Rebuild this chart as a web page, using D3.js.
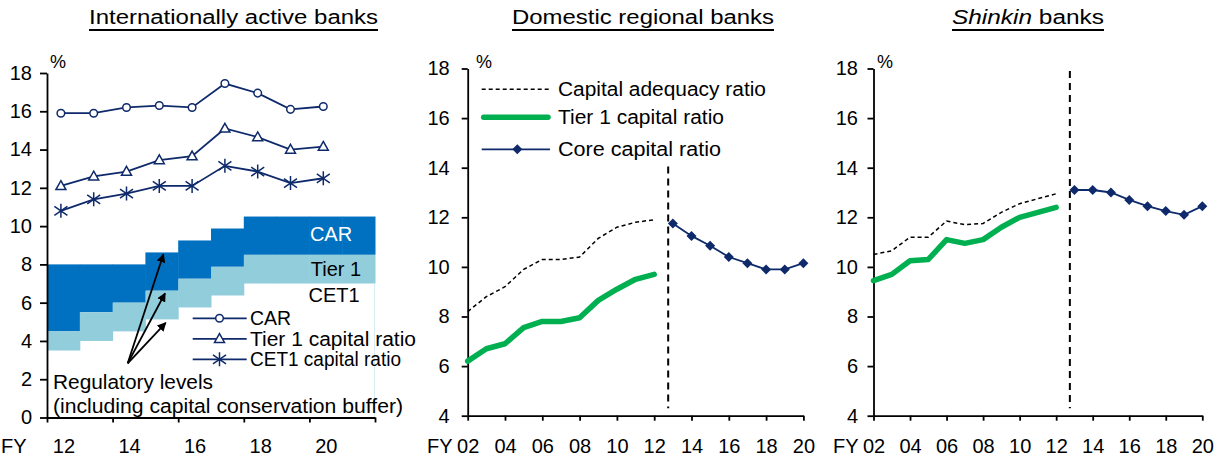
<!DOCTYPE html>
<html><head><meta charset="utf-8">
<script src="https://cdn.jsdelivr.net/npm/d3@7"></script>
<style>
html,body{margin:0;padding:0;background:#fff;}
svg{display:block;}
text{font-family:"Liberation Sans",Arial,sans-serif;fill:#000;}
</style></head>
<body><svg id="c" width="1222" height="459"></svg>
<script>
// ---------- DATA ----------
const titles = ["Internationally active banks", "Domestic regional banks", "Shinkin banks"];
// Panel 1: internationally active banks (FY2012-FY2020)
const intlYears = [12, 13, 14, 15, 16, 17, 18, 19, 20];
const intlCAR   = [15.9, 15.9, 16.2, 16.3, 16.2, 17.45, 16.95, 16.1, 16.25];
const intlTier1 = [12.1, 12.6, 12.85, 13.45, 13.65, 15.1, 14.65, 14.0, 14.15];
const intlCET1  = [10.8, 11.4, 11.7, 12.1, 12.1, 13.15, 12.85, 12.25, 12.5];
// Regulatory levels incl. capital conservation buffer
const regYears = [12, 13, 14, 15, 16, 17, 18, 19, 20, 21];
const regCAR   = [8, 8, 8, 8.625, 9.25, 9.875, 10.5, 10.5, 10.5, 10.5];
const regTier1 = [4.5, 5.5, 6, 6.625, 7.25, 7.875, 8.5, 8.5, 8.5, 8.5];
const regCET1  = [3.5, 4, 4.5, 5.125, 5.75, 6.375, 7, 7, 7, 7];
const intlXTicks = [12, 14, 16, 18, 20];
const intlYTicks = [0, 2, 4, 6, 8, 10, 12, 14, 16, 18];
// Panels 2-3: FY2002-FY2012 (old standard), FY2013-FY2020 (core capital)
const oldYears  = [2, 3, 4, 5, 6, 7, 8, 9, 10, 11, 12];
const coreYears = [13, 14, 15, 16, 17, 18, 19, 20];
const regionalCAR   = [8.2, 8.8, 9.2, 9.9, 10.3, 10.3, 10.4, 11.15, 11.6, 11.8, 11.9];
const regionalTier1 = [6.2, 6.7, 6.9, 7.55, 7.8, 7.8, 7.95, 8.65, 9.1, 9.5, 9.7];
const regionalCore  = [11.75, 11.25, 10.85, 10.4, 10.15, 9.9, 9.9, 10.15];
const shinkinCAR    = [10.5, 10.65, 11.2, 11.2, 11.85, 11.7, 11.75, 12.2, 12.55, 12.75, 12.95];
const shinkinTier1  = [9.45, 9.7, 10.25, 10.3, 11.1, 10.95, 11.1, 11.6, 12.0, 12.2, 12.4];
const shinkinCore   = [13.1, 13.1, 13.0, 12.7, 12.45, 12.25, 12.1, 12.45];
const domXTicks = [2, 4, 6, 8, 10, 12, 14, 16, 18, 20];
const domYTicks = [4, 6, 8, 10, 12, 14, 16, 18];
const breakYear = 12.75;
const fmt2 = d => String(d).padStart(2, "0");

// ---------- STYLE ----------
const NAVY = "#0E2A6B", DARK = "#0070C0", LIGHT = "#92CDDC", GREEN = "#00B050";
const FS = 20;
const svg = d3.select("#c");

// ---------- TITLES ----------
const titleSpec = [
  {x: 89, w: 289, parts: [{t: titles[0]}]},
  {x: 512, w: 262, parts: [{t: titles[1]}]},
  {x: 952, w: 152, parts: [{t: "Shinkin", it: true}, {t: " banks"}]}
];
titleSpec.forEach(s => {
  const t = svg.append("text").attr("x", s.x).attr("y", 23.5).attr("font-size", 19.5)
    .attr("textLength", s.w).attr("lengthAdjust", "spacingAndGlyphs");
  s.parts.forEach(p => t.append("tspan").text(p.t).attr("font-style", p.it ? "italic" : "normal"));
  svg.append("line").attr("x1", s.x).attr("x2", s.x + s.w).attr("y1", 30).attr("y2", 30)
    .attr("stroke", "#000").attr("stroke-width", 2);
});

function styleAxis(g) {
  g.select(".domain").attr("stroke", "#000").attr("stroke-width", 1.8);
  g.selectAll(".tick line").attr("stroke", "#000").attr("stroke-width", 1.8);
  g.selectAll(".tick text").attr("font-size", FS).attr("fill", "#000")
    .attr("font-family", "Liberation Sans, Arial, sans-serif");
}

// ---------- PANEL 1 ----------
(function () {
  const x0 = 47, x1 = 375, y0 = 417.5, y1 = 73;
  const xb = d3.scaleBand().domain(regYears).range([x0, x1]).paddingInner(0).paddingOuter(0);
  const xl = d3.scaleLinear().domain([11.5, 21.5]).range([x0, x1]);
  const y = d3.scaleLinear().domain([0, 18]).range([y0, y1]);

  // regulatory areas
  const g = svg.append("g");
  regYears.forEach((yr, i) => {
    g.append("rect").attr("x", xb(yr)).attr("width", xb.bandwidth() + 0.5)
      .attr("y", y(regCAR[i])).attr("height", y(regTier1[i]) - y(regCAR[i])).attr("fill", DARK);
    g.append("rect").attr("x", xb(yr)).attr("width", xb.bandwidth() + 0.5)
      .attr("y", y(regTier1[i])).attr("height", y(regCET1[i]) - y(regTier1[i])).attr("fill", LIGHT);
  });
  svg.append("line").attr("x1", x1 - 0.5).attr("x2", x1 - 0.5)
    .attr("y1", y(regCET1[regCET1.length - 1])).attr("y2", y0).attr("stroke", "#D6ECF2").attr("stroke-width", 1);

  // labels inside areas
  svg.append("text").attr("x", 331).attr("y", 240.5).attr("text-anchor", "middle").attr("font-size", FS).style("fill", "#fff").text("CAR");
  svg.append("text").attr("x", 336).attr("y", 275.5).attr("text-anchor", "middle").attr("font-size", FS).text("Tier 1");
  svg.append("text").attr("x", 334).attr("y", 301.5).attr("text-anchor", "middle").attr("font-size", FS).text("CET1");

  // axes
  const ya = svg.append("g").attr("transform", `translate(${x0},0)`)
    .call(d3.axisLeft(y).tickValues(intlYTicks).tickSize(7).tickPadding(8).tickSizeOuter(0));
  styleAxis(ya);
  const xa = svg.append("g").attr("transform", `translate(0,${y0})`)
    .call(d3.axisBottom(xl).tickValues([11.5, 13.5, 15.5, 17.5, 19.5, 21.5]).tickFormat("").tickSize(5).tickSizeOuter(0));
  styleAxis(xa);
  const xa2 = svg.append("g").attr("transform", `translate(0,${y0})`)
    .call(d3.axisBottom(xl).tickValues(intlXTicks).tickSize(0).tickPadding(21.3));
  xa2.select(".domain").remove();
  styleAxis(xa2);
  svg.append("text").attr("x", 1).attr("y", 453).attr("font-size", FS).text("FY");
  svg.append("text").attr("x", 50).attr("y", 68).attr("font-size", 18).text("%");

  // series
  const line = d3.line().x((d, i) => xl(intlYears[i]) - 2.5).y(d => y(d));
  [intlCAR, intlTier1, intlCET1].forEach(s => {
    svg.append("path").attr("d", line(s)).attr("fill", "none").attr("stroke", NAVY).attr("stroke-width", 1.8);
  });
  const tri = "M0,-5.2L5,3.6L-5,3.6Z";
  const star = "M0,-7V7M-6.5,-4.5L6.5,4.5M-6.5,4.5L6.5,-4.5";
  intlCAR.forEach((d, i) => svg.append("circle").attr("cx", xl(intlYears[i]) - 2.5).attr("cy", y(d)).attr("r", 3.8)
    .attr("fill", "#fff").attr("stroke", NAVY).attr("stroke-width", 1.5));
  intlTier1.forEach((d, i) => svg.append("path").attr("d", tri)
    .attr("transform", `translate(${xl(intlYears[i]) - 2.5},${y(d)})`)
    .attr("fill", "#fff").attr("stroke", NAVY).attr("stroke-width", 1.5));
  intlCET1.forEach((d, i) => svg.append("path").attr("d", star)
    .attr("transform", `translate(${xl(intlYears[i]) - 2.5},${y(d)})`)
    .attr("fill", "none").attr("stroke", NAVY).attr("stroke-width", 1.5));

  // legend
  const lg = [["CAR", "c"], ["Tier 1 capital ratio", "t"], ["CET1 capital ratio", "s"]];
  const lw = [41, 166, 151];
  lg.forEach((d, i) => {
    const cy = 318.3 + i * 20.5;
    svg.append("line").attr("x1", 192.7).attr("x2", 246.7).attr("y1", cy).attr("y2", cy).attr("stroke", NAVY).attr("stroke-width", 1.8);
    if (d[1] === "c") svg.append("circle").attr("cx", 219.5).attr("cy", cy).attr("r", 3.8).attr("fill", "#fff").attr("stroke", NAVY).attr("stroke-width", 1.5);
    if (d[1] === "t") svg.append("path").attr("d", tri).attr("transform", `translate(219.5,${cy})`).attr("fill", "#fff").attr("stroke", NAVY).attr("stroke-width", 1.5);
    if (d[1] === "s") svg.append("path").attr("d", star).attr("transform", `translate(219.5,${cy})`).attr("fill", "none").attr("stroke", NAVY).attr("stroke-width", 1.5);
    svg.append("text").attr("x", 250).attr("y", cy + 7).attr("font-size", FS)
      .attr("textLength", lw[i]).attr("lengthAdjust", "spacingAndGlyphs").text(d[0]);
  });

  // annotation arrows
  svg.append("defs").append("marker").attr("id", "ah").attr("viewBox", "0 0 10 10")
    .attr("refX", 9).attr("refY", 5).attr("markerWidth", 5).attr("markerHeight", 5)
    .attr("orient", "auto").attr("markerUnits", "strokeWidth")
    .append("path").attr("d", "M0,0L10,5L0,10Z").attr("fill", "#000");
  const base = [13.96, 2.83];
  [[15.05, 8.53], [15.1, 6.49], [15.12, 4.95]].forEach(h => {
    svg.append("line").attr("x1", xl(base[0])).attr("y1", y(base[1]))
      .attr("x2", xl(h[0])).attr("y2", y(h[1])).attr("stroke", "#000").attr("stroke-width", 1.8)
      .attr("marker-end", "url(#ah)");
  });
  svg.append("text").attr("x", 53).attr("y", 388.5).attr("font-size", FS)
    .attr("textLength", 160).attr("lengthAdjust", "spacingAndGlyphs").text("Regulatory levels");
  svg.append("text").attr("x", 53).attr("y", 413).attr("font-size", FS)
    .attr("textLength", 350).attr("lengthAdjust", "spacingAndGlyphs").text("(including capital conservation buffer)");
})();

// ---------- PANELS 2-3 ----------
function domPanel(x0, x1, labelOff, fyX, pctX, car, t1, core, vTop, legend) {
  const y0 = 415.7, y1 = 68.5;
  const x = d3.scaleLinear().domain([2, 20]).range([x0, x1]);
  const y = d3.scaleLinear().domain([4, 18]).range([y0, y1]);
  const ya = svg.append("g").attr("transform", `translate(${x0},0)`)
    .call(d3.axisLeft(y).tickValues(domYTicks).tickSize(6).tickPadding(labelOff - 6).tickSizeOuter(0));
  styleAxis(ya);
  const xa = svg.append("g").attr("transform", `translate(0,${y0})`)
    .call(d3.axisBottom(x).tickValues(domXTicks).tickFormat(fmt2).tickSize(5).tickPadding(18).tickSizeOuter(0));
  styleAxis(xa);
  svg.append("text").attr("x", fyX).attr("y", 453).attr("font-size", FS).text("FY");
  svg.append("text").attr("x", pctX).attr("y", 68).attr("font-size", 18).text("%");

  // break line
  svg.append("line").attr("x1", x(breakYear)).attr("x2", x(breakYear))
    .attr("y1", y(vTop)).attr("y2", y(4.3)).attr("stroke", "#000").attr("stroke-width", 2).attr("stroke-dasharray", "7,5");

  const lo = d3.line().x((d, i) => x(oldYears[i])).y(d => y(d));
  const lc = d3.line().x((d, i) => x(coreYears[i])).y(d => y(d));
  svg.append("path").attr("d", lo(car)).attr("fill", "none").attr("stroke", "#000").attr("stroke-width", 1.5).attr("stroke-dasharray", "4,3");
  svg.append("path").attr("d", lo(t1)).attr("fill", "none").attr("stroke", GREEN).attr("stroke-width", 5.5)
    .attr("stroke-linejoin", "round").attr("stroke-linecap", "round");
  svg.append("path").attr("d", lc(core)).attr("fill", "none").attr("stroke", NAVY).attr("stroke-width", 1.8);
  const dia = "M0,-5L5,0L0,5L-5,0Z";
  core.forEach((d, i) => svg.append("path").attr("d", dia)
    .attr("transform", `translate(${x(coreYears[i])},${y(d)})`).attr("fill", NAVY));

  if (legend) {
    const lx1 = 481.7, lx2 = 550, tx = 558;
    const rows = [
      {t: "Capital adequacy ratio", cy: 89.3, w: 208},
      {t: "Tier 1 capital ratio", cy: 117.3, w: 166},
      {t: "Core capital ratio", cy: 149.3, w: 163}
    ];
    svg.append("line").attr("x1", lx1).attr("x2", lx2).attr("y1", rows[0].cy).attr("y2", rows[0].cy)
      .attr("stroke", "#000").attr("stroke-width", 1.5).attr("stroke-dasharray", "4,3");
    svg.append("line").attr("x1", lx1 + 2).attr("x2", lx2 - 2).attr("y1", rows[1].cy).attr("y2", rows[1].cy)
      .attr("stroke", GREEN).attr("stroke-width", 5.5).attr("stroke-linecap", "round");
    svg.append("line").attr("x1", lx1).attr("x2", lx2).attr("y1", rows[2].cy).attr("y2", rows[2].cy)
      .attr("stroke", NAVY).attr("stroke-width", 1.8);
    svg.append("path").attr("d", dia).attr("transform", `translate(517.3,${rows[2].cy})`).attr("fill", NAVY);
    rows.forEach(r => svg.append("text").attr("x", tx).attr("y", r.cy + 7).attr("font-size", FS)
      .attr("textLength", r.w).attr("lengthAdjust", "spacingAndGlyphs").text(r.t));
  }
}
domPanel(467.7, 803.4, 18, 427, 476, regionalCAR, regionalTier1, regionalCore, 14.05, true);
domPanel(873.5, 1202.3, 15.5, 833, 877, shinkinCAR, shinkinTier1, shinkinCore, 17.9, false);
</script></body></html>
